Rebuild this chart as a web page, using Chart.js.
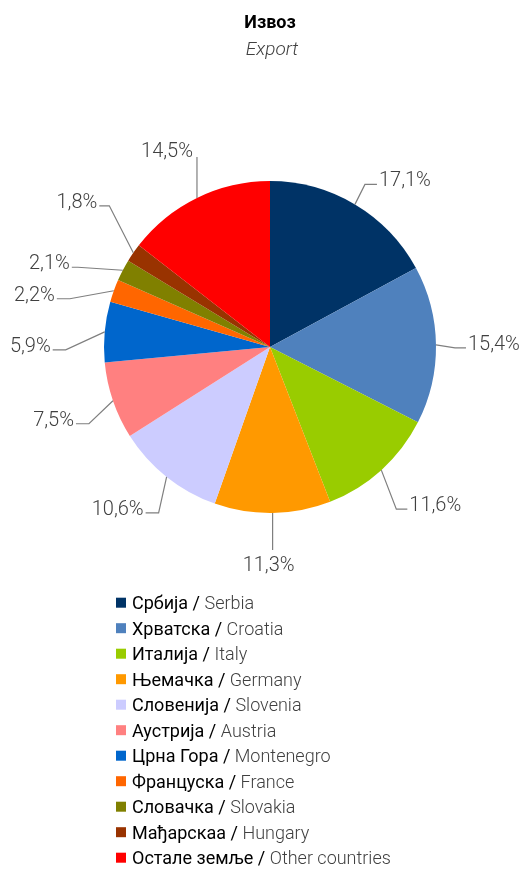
<!DOCTYPE html>
<html>
<head>
<meta charset="utf-8">
<script src="https://cdn.jsdelivr.net/npm/chart.js@4.4.1/dist/chart.umd.min.js"></script>
<style>
  html, body { margin: 0; padding: 0; background: #fff; }
  #wrap { position: relative; width: 520px; height: 870px; }
</style>
</head>
<body>
<div id="wrap"><canvas id="exportPie"></canvas></div>
<script>
const namesSr = ['Србија', 'Хрватска', 'Италија', 'Њемачка', 'Словенија', 'Аустрија', 'Црна Гора', 'Француска', 'Словачка', 'Мађарскаа', 'Остале земље']
const namesEn = ['Serbia', 'Croatia', 'Italy', 'Germany', 'Slovenia', 'Austria', 'Montenegro', 'France', 'Slovakia', 'Hungary', 'Other countries']
const shares = [17.1, 15.4, 11.6, 11.3, 10.6, 7.5, 5.9, 2.2, 2.1, 1.8, 14.5]
const sliceColors = ['#003366', '#4f81bd', '#99cc00', '#ff9900', '#ccccff', '#ff8080', '#0066cc', '#ff6600', '#808000', '#993300', '#ff0000']

// where each leader line bends, relative to the slice edge at its middle angle,
// and how long the horizontal tail after the bend is
const leaderBend = [[10, -20], [19, 3], [15, 39], [0, 37], [-8, 36], [-24, 23], [-39, 18], [-44, 8], [-45, -3], [-24, -47], [0, -41]]
const leaderTail = [12, 11, 11, 0, 13, 13, 13, 13, 6, 10, 0]

const fmt = v => v.toFixed(1).replace('.', ',') + '%'

const labelsPlugin = {
  id: 'pieLabels',
  afterDatasetsDraw (chart) {
    const ctx = chart.ctx
    const meta = chart.getDatasetMeta(0)
    ctx.save()
    ctx.strokeStyle = '#7f7f7f'
    ctx.lineWidth = 1.2
    ctx.fillStyle = '#404040'
    ctx.font = '300 20px Roboto'
    meta.data.forEach((arc, i) => {
      const p = arc.getProps(['x', 'y', 'startAngle', 'endAngle', 'outerRadius'], true)
      const mid = (p.startAngle + p.endAngle) / 2
      const ax = p.x + Math.cos(mid) * p.outerRadius
      const ay = p.y + Math.sin(mid) * p.outerRadius
      const bx = ax + leaderBend[i][0]
      const by = ay + leaderBend[i][1]
      const tail = leaderTail[i]
      const dir = leaderBend[i][0] >= 0 ? 1 : -1
      const ex = bx + dir * tail

      ctx.beginPath()
      ctx.moveTo(ax, ay)
      ctx.lineTo(bx, by)
      if (tail > 0) ctx.lineTo(ex, by)
      ctx.stroke()

      const txt = fmt(shares[i])
      ctx.textBaseline = 'alphabetic'
      if (tail > 0) {
        ctx.textAlign = dir > 0 ? 'left' : 'right'
        ctx.fillText(txt, ex + dir * 2, by + 2)
      } else if (leaderBend[i][1] > 0) {
        ctx.textAlign = 'center'
        ctx.fillText(txt, bx - 4, by + 21)
      } else {
        ctx.textAlign = 'right'
        ctx.fillText(txt, bx - 4, by)
      }
    })
    ctx.restore()
  },
  afterDraw (chart) {
    const ctx = chart.ctx
    ctx.save()
    // title
    ctx.textAlign = 'center'
    ctx.textBaseline = 'alphabetic'
    ctx.fillStyle = '#000'
    ctx.font = 'bold 18px Roboto'
    ctx.fillText('Извоз', 270, 28)
    ctx.fillStyle = '#404040'
    ctx.font = 'italic 300 19px Roboto'
    ctx.fillText('Export', 272, 55)

    // legend
    ctx.textAlign = 'left'
    namesSr.forEach((name, i) => {
      const cy = 602.7 + i * 25.5
      ctx.fillStyle = sliceColors[i]
      ctx.fillRect(116, cy - 5, 10, 10)
      let x = 132
      ctx.fillStyle = '#000'
      ctx.font = '400 18px Roboto'
      const head = name + ' / '
      ctx.fillText(head, x, cy + 6.3)
      x += ctx.measureText(head).width
      ctx.fillStyle = '#404040'
      ctx.font = '300 18px Roboto'
      ctx.fillText(namesEn[i], x, cy + 6.3)
    })
    ctx.restore()
  }
}

new Chart(document.getElementById('exportPie').getContext('2d'), {
  type: 'pie',
  data: {
    labels: namesSr.map((n, i) => n + ' / ' + namesEn[i]),
    datasets: [{
      data: shares,
      backgroundColor: sliceColors,
      borderWidth: 0
    }]
  },
  options: {
    responsive: true,
    maintainAspectRatio: false,
    animation: false,
    layout: {
      padding: { left: 104, right: 84, top: 181, bottom: 357 }
    },
    plugins: {
      legend: { display: false },
      tooltip: { enabled: false },
      title: { display: false }
    }
  },
  plugins: [labelsPlugin]
})
</script>
</body>
</html>
